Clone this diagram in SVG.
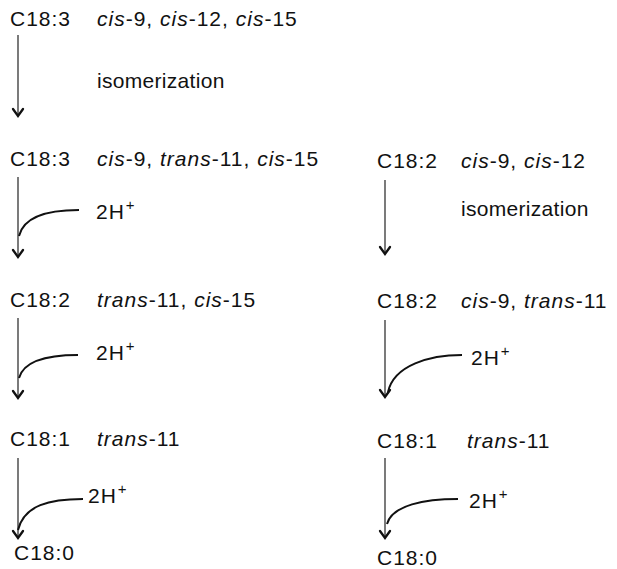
<svg xmlns="http://www.w3.org/2000/svg" width="617" height="569" viewBox="0 0 617 569">
<style>
text{font-family:"Liberation Sans",Arial,sans-serif;font-size:21px;letter-spacing:1px;fill:#111}
.i{font-style:italic}
.iso{letter-spacing:0.3px}
.sup{font-size:15px}
.ln{stroke:#222;stroke-width:1.2;fill:none}
.cv{stroke:#111;stroke-width:2;fill:none}
.ah{stroke:#111;stroke-width:2.3;fill:none;stroke-linecap:round;stroke-linejoin:miter}
</style>
<rect width="617" height="569" fill="#fff"/>
<g id="connectors">
<line class="ln" x1="18" y1="35" x2="18" y2="115"/>
<path class="ah" d="M13,109 L18,116 L23,109"/>
<line class="ln" x1="18" y1="177" x2="18" y2="256"/>
<path class="cv" d="M79,210 C50,210 24,215 19,236"/>
<path class="ah" d="M13,250 L18,257 L23,250"/>
<line class="ln" x1="18" y1="318" x2="18" y2="397"/>
<path class="cv" d="M78,355 C50,355 24,360 19,378"/>
<path class="ah" d="M13,391 L18,398 L23,391"/>
<line class="ln" x1="18" y1="458" x2="18" y2="537"/>
<path class="cv" d="M83,499 C50,499 24,505 18,530"/>
<path class="ah" d="M13,531 L18,538 L23,531"/>
<line class="ln" x1="385" y1="180" x2="385" y2="253"/>
<path class="ah" d="M380,247 L385,254 L390,247"/>
<line class="ln" x1="385" y1="320" x2="385" y2="396"/>
<path class="cv" d="M462,355 C430,355 394,365 388,392"/>
<path class="ah" d="M380,390 L385,397 L390,390"/>
<line class="ln" x1="385" y1="458" x2="385" y2="537"/>
<path class="cv" d="M458,499 C425,499 392,505 387,524"/>
<path class="ah" d="M380,531 L385,538 L390,531"/>
</g>
<g id="n1"><text x="10" y="26">C18:3</text><text x="97" y="26"><tspan class="i">cis</tspan>-9, <tspan class="i">cis</tspan>-12, <tspan class="i">cis</tspan>-15</text></g>
<g id="iso1"><text class="iso" x="97" y="88">isomerization</text></g>
<g id="n2"><text x="10" y="166">C18:3</text><text x="97" y="166"><tspan class="i">cis</tspan>-9, <tspan class="i">trans</tspan>-11, <tspan class="i">cis</tspan>-15</text></g>
<g id="h1"><text x="96" y="219">2H<tspan class="sup" dx="1" dy="-9">+</tspan></text></g>
<g id="n3"><text x="10" y="307">C18:2</text><text x="97" y="307"><tspan class="i">trans</tspan>-11, <tspan class="i">cis</tspan>-15</text></g>
<g id="h2"><text x="96" y="360">2H<tspan class="sup" dx="1" dy="-9">+</tspan></text></g>
<g id="n4"><text x="10" y="446">C18:1</text><text x="97" y="446"><tspan class="i">trans</tspan>-11</text></g>
<g id="h3"><text x="88" y="503">2H<tspan class="sup" dx="1" dy="-9">+</tspan></text></g>
<g id="n5"><text x="14" y="560">C18:0</text></g>
<g id="m1"><text x="377" y="168">C18:2</text><text x="461" y="168"><tspan class="i">cis</tspan>-9, <tspan class="i">cis</tspan>-12</text></g>
<g id="iso2"><text class="iso" x="461" y="216">isomerization</text></g>
<g id="m2"><text x="377" y="308">C18:2</text><text x="461" y="308"><tspan class="i">cis</tspan>-9, <tspan class="i">trans</tspan>-11</text></g>
<g id="h4"><text x="471" y="365">2H<tspan class="sup" dx="1" dy="-9">+</tspan></text></g>
<g id="m3"><text x="377" y="448">C18:1</text><text x="467" y="448"><tspan class="i">trans</tspan>-11</text></g>
<g id="h5"><text x="469" y="508">2H<tspan class="sup" dx="1" dy="-9">+</tspan></text></g>
<g id="m4"><text x="377" y="565">C18:0</text></g>
</svg>
